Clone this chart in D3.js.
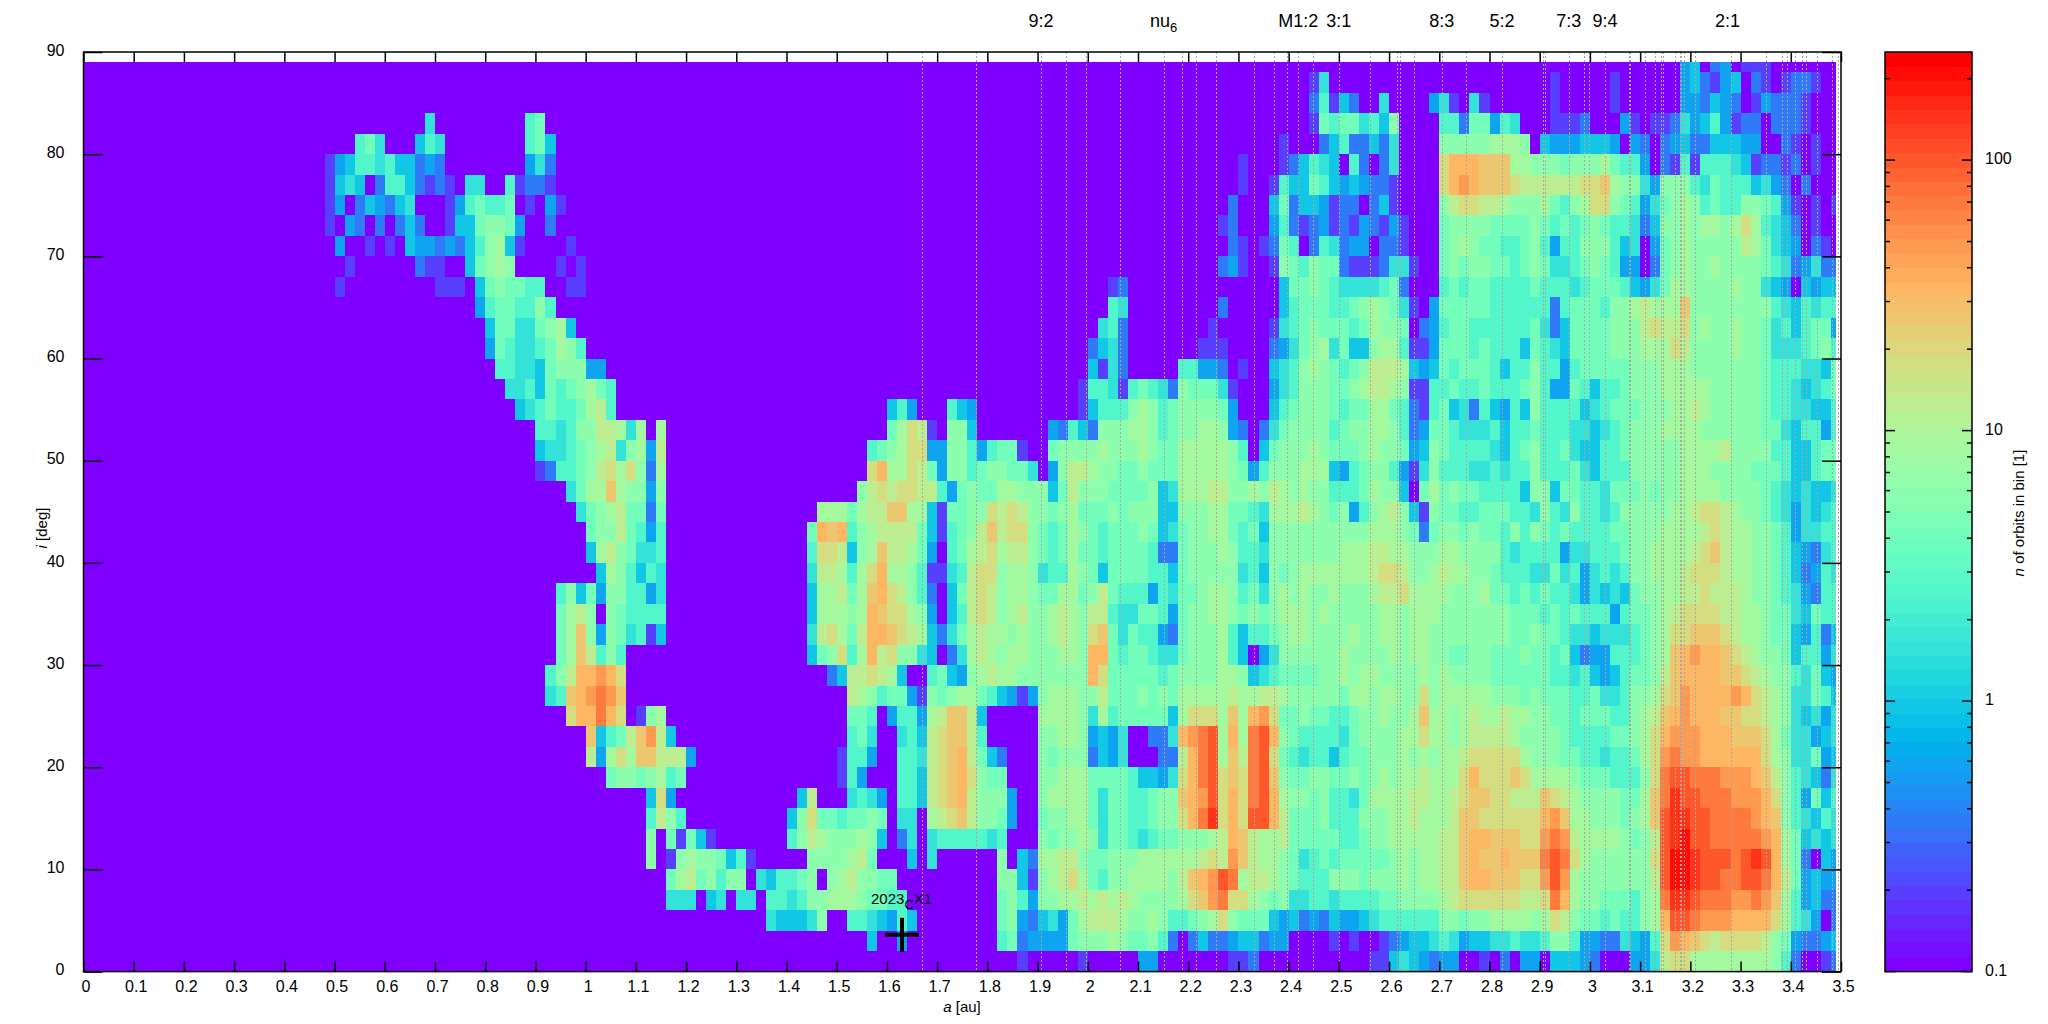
<!DOCTYPE html>
<html><head><meta charset="utf-8">
<script src="https://cdn.jsdelivr.net/npm/d3@7"></script>
<style>html,body{margin:0;padding:0;background:#fff}svg{display:block}text{font-family:"Liberation Sans",sans-serif;fill:#000}</style>
</head><body><svg id="c" width="2048" height="1024"></svg>
<script>
const xTicks = d3.range(0, 36).map(d => d / 10);
const yTicks = d3.range(0, 10).map(d => d * 10);
const cbMajor = [0.1, 1, 10, 100];
const cbMinor = [0.2,0.3,0.4,0.5,0.6,0.7,0.8,0.9,2,3,4,5,6,7,8,9,20,30,40,50,60,70,80,90,200];
const resonanceA = [1.67,1.777,1.907,1.957,1.996,2.065,2.151,2.188,2.216,2.255,2.332,2.37,2.397,2.419,2.448,2.5,2.562,2.615,2.621,2.65,2.705,2.753,2.754,2.825,2.906,2.91,2.958,2.988,2.999,3.03,3.078,3.08,3.11,3.13,3.142,3.146,3.17,3.179,3.181,3.188,3.21,3.28,3.35,3.382,3.393,3.408,3.423,3.43,3.452,3.483,3.495];
const topLabels = ["9:2","nu","M1:2","3:1","8:3","5:2","7:3","9:4","2:1"];
const topLabelA = [1.907,2.151,2.419,2.5,2.705,2.825,2.958,3.03,3.274];
const targetA = 1.63, targetI = 3.6;
const levelChars = "0123456789abcdefgh";
const levelValues = [0.2,0.35,0.6,1,1.6,2.5,4,6,9,13,18,25,35,50,70,100,140,200];
const binA = 0.02, binI = 2;
// one string per inclination band (0-2, 2-4, ...): "@a" sets the start, then one level per a-bin, "." = empty
const gridRows = [
"@1.86 0 @1.98 0 @2.10 22 @2.28 001 @2.56 0034321 @2.70 22..0.1.22 .33321...2 249aa88888 888751..01",
"@1.56 3 @1.62 2 @1.82 5612 @1.90 2226777876 6751.13112 33122....0 .0..012334 5423344544 5775221143 25adcba9aa aa97621123",
"@1.36 433347..5543253 @1.82 6721 @1.90 3426899987 78755678a7 6663231213 2234555555 7767788887 8a97665655 78cffedddc ccca8542.1",
"@1.16 444.34.44.55457788876655 @1.82 6752 @1.90 7788989898 77778abdea a876744554 5555667777 89aaaaaa99 aec8776665 78eggfeeed dedb852311",
"@1.16 68967577.435567.7897766 @1.82 7730 @1.90 789a865778 88879bcdfe 8998765557 7767778788 99bccbbbaa dfd8777777 79fhhgffee ffec962322",
"@1.12 7.078776350 @1.44 7777896 @1.64 3 @1.68 4 @1.82 7.31 @1.90 8899766777 8888889a9d b988764565 6666678788 99bcbbcbbb efea877777 7afhhgfffe fgfc861.32",
"@1.12 7.60630 @1.40 5798777873 @1.62 14 @1.68 45555545 @1.90 7677874665 456677789c b988966666 5567788888 99bccbbbaa ded9888876 79fghffeee eedc863434",
"@1.12 5975 @1.40 37a6656676 @1.62 44 @1.68 89ab97762 @1.90 6778864665 5677acegac affc966675 5577788988 89bbaaaaaa cdb8877767 8bfggffeee edcb754354",
"@1.12 3a2 @1.42 39 @1.52 4542 @1.62 5539abc97772 @1.90 7888864665 5677bcdfac aefc877675 5468888998 89abbaa999 ba98777766 8begffeeed ddca752635",
"@1.04 67767856 @1.50 052 @1.62 5539abca766 @1.90 7788866665 3324acefab aefb766776 6767878898 88acaaaba8 8887666555 7aeffeeedd dcb9754314",
"@1.00 928a8bb9992 @1.50 0552 @1.62 5549abc9631 @1.90 767771324. ..119cef8b 9efa654553 5667778787 889aaaaa87 7766554556 8adeddcccc cca8744623",
"@1.00 b3569bd93 @1.52 564 @1.62 4539abb95 @1.90 778872324. .114cdef8c 8efc765555 4677778 8a8 8789999877 7765555667 8acdddcccb bba8644234",
"@0.96 acceca @1.10 078 @1.52 665.255289bb93 @1.90 8888748566 66638aaa8b 8cda667665 56778778b8 8789889887 7665666557 89bcdcccbb aa98743424",
"@0.92 45bcdedb @1.52 9875662076788653202 @1.90 7888779666 7676888889 8899877777 68878877a7 8888877767 6665564457 78abdccccd ca98744653",
"@0.92 579ccdca @1.48 1399a983..56327898877 @1.90 77777ca666 6656777788 7345666677 8788777787 8777766666 6554532356 679bccccbb a987754632",
"@0.94 68b9575 @1.44 367a58c9a7743.148987887 @1.90 77887cc656 6544677785 3.24777777 8777787887 7667766676 6563122555 678bcdccba 9877635524",
"@0.94 68b72764503 @1.44 49a869ccba9831468988787 @1.90 78987ab646 5521677785 3556788777 7877887887 7777777667 6654434445 678aabbba9 8876632513",
"@0.94 6897.765555 @1.44 388878cbaa872.359a97897 @1.90 7898799544 6652677887 6767888787 7777887888 7777777666 5656555256 6789aaaa99 8876643655",
"@0.94 57362775524 @1.44 388968bca9751.369a97887 @1.90 6688679655 5254667887 5647878778 777899a888 8777866565 6554243436 778899a999 8776542155",
"@1.02 3875354 @1.44 499858ac887500459aa7887 @1.90 4558763666 6553677777 4537678888 8889aa9778 9887765554 4645245457 78889aaa98 8776531254",
"@1.00 38976445 @1.44 5aa9378b99862.5689a8997 @1.90 6568665666 6511677787 5547777777 8889988777 8877775455 5524455567 788889ab98 8776532145",
"@1.00 67796525 @1.44 6cbc57899996305679b9aa7 @1.90 6568765666 7634677886 5637777777 7778887616 7767665757 6565555667 7788889a98 8776524455",
"@0.98 467896616 @1.46 8886899bb88306677a9a97 @1.90 7678666767 7733777886 6548889876 7257897307 6655666554 7547554577 777889aa98 7765424345",
"@0.96 4688b87727 @1.54 79a9aa99526766887777 @1.90 7369777666 6734888997 7879878775 556877 3.68 6766555537 7366554666 7677888877 7765434334",
"@0.90 0155679a8a718 @1.56 ac88a962775677664 @1.90 .279987766 7666888887 6257778883 2567752047 5554454557 5556435557 7777888777 7666533566",
"@0.90 3445678947829 @1.56 5678aa2 @1.70 277525660 @1.92 677778777 8766888887 5.36777876 6678776237 6555543567 5564335567 7777888897 7775533566",
"@0.90 55457799848.8 @1.60 68a90 @1.72 773 @1.92 215317778 8756778872 1.14677775 6778875126 6544453556 5554434567 7788887777 7766435525",
"@0.86 3456556895 @1.60 352 @1.72 532 @1.98 035557 8756777762 @2.36 35677765668865105 6341532537 5555345666 7778898777 7765544335",
"@0.84 44536567865 @1.98 055405 6541766640 @2.36 24577766789987005 5655655567 5226535567 7788888777 7765543456",
"@0.82 55443677722 @2.00 3041 @2.18 55221.0 @2.36 34578765679998323 6566653557 5525666667 7788877777 7765554436",
"@0.80 2654456875 @2.00 1341 @2.22 000 @2.36 12467846337885002 6665655536 5436666777 888a977778 7764445675",
"@0.80 366446783 @2.02 451 @2.24 0 @2.36 04567666568776.12 5665555556 4136666777 9a99a78778 7764535662",
"@0.78 25665575 @2.04 54 @2.26 1 @2.38 35666556787640.2 6666655555 5156665778 9888b77777 7775435455",
"@0.50 0 @0.70 000 @0.78 3676655 @0.96 00 @2.04 01 @2.38 3667654444561 @2.70 5656655556 5554566653 2468877778 77432.3233",
"@0.52 0 @0.66 100 @0.76 36787 @0.94 0 @0.98 0 @2.26 120 @2.36 076576610001440 @2.70 6767766567 6445676522 .167877877 7765412411",
"@0.50 2 @0.56 0 @0.60 0 @0.64 322121357830 @0.96 0 @2.28 10 @2.34 0165.154122.110 @2.70 6787665567 5255777534 .267877777 986432.10.",
"@0.48 0.21.1.131..03367762..1 @2.26 01 @2.36 25101201021020 @2.70 6777766667 6565676554 1377878878 a85431.0..",
"@0.48 02.132134...0256556.0.20 @2.28 1 @2.36 361332011.130 @2.70 79aa998777 86578aa765 2467875655 776520.0.0",
"@0.48 0343.15531010.44..50110 @2.30 0 @2.36 0533653232110 @2.70 acdcbbba99 9999aab877 4277754655 53421.1...",
"@0.48 023554533121 @0.88 241 @2.30 0 @2.38 013543.51.14 @2.70 acccbbb887 7767778655 2.10505554 301101.0..",
"@0.54 564 @0.66 354 @0.88 563 @2.38 0 @2.46 13511314 @2.70 777778887. 32223332.2 1.12311333 22..10.0..",
"@0.68 4 @0.88 56 @2.44 065664537 @2.70 55166254.. .0001...20 .001423520 11.1110...",
"@2.44 15031..4 @2.68 240.40 @2.92 0 @3.04 0 @3.18 221321.021110",
"@2.44 04 @2.92 0 @3.04 0 @3.18 231023.10.0110",
"@3.18 23.12.000"
];

const cells = [];
gridRows.forEach((row, r) => {
  let k = 0;
  row.split(/\s+/).forEach(tok => {
    if (tok[0] === "@") { k = Math.round(+tok.slice(1) / binA); return; }
    for (const ch of tok) {
      const lv = levelChars.indexOf(ch);
      if (lv >= 0) cells.push({a: k * binA, i: r * binI, n: levelValues[lv]});
      k++;
    }
  });
});

const svg = d3.select("#c");
const x = d3.scaleLinear().domain([0, 3.5]).range([83.5, 1841]);
const y = d3.scaleLinear().domain([0, 90]).range([971.6, 52]);
const cbScale = d3.scaleLog().domain([0.1, 251]).range([971.6, 52]);
const tOf = d3.scaleLog().domain([0.1, 251]).range([0, 1]).clamp(true);
const nBands = 64;
function palette(n) {
  const band = Math.min(nBands - 1, Math.floor(tOf(n) * nBands));
  const t = band / (nBands - 1);
  const r = Math.min(1, Math.abs(2 * t - 0.5));
  const g = Math.sin(Math.PI * t);
  const b = Math.max(0, Math.cos(Math.PI * t / 2));
  return d3.rgb(r * 255, g * 255, b * 255).formatHex();
}
const iMax = 89, aMax = 3.49;

const heat = svg.append("g").attr("shape-rendering", "crispEdges");
heat.append("rect").attr("x", x(0)).attr("y", y(iMax))
  .attr("width", x(aMax) - x(0)).attr("height", y(0) - y(iMax)).attr("fill", palette(0.1));
heat.selectAll("rect.cell").data(cells).join("rect").attr("class", "cell")
  .attr("x", d => x(d.a))
  .attr("width", d => x(Math.min(aMax, d.a + binA)) - x(d.a))
  .attr("y", d => y(Math.min(iMax, d.i + binI)))
  .attr("height", d => y(d.i) - y(Math.min(iMax, d.i + binI)))
  .attr("fill", d => palette(d.n));

svg.append("g").selectAll("line").data(resonanceA).join("line")
  .attr("x1", d => Math.round(x(d)) + 0.5).attr("x2", d => Math.round(x(d)) + 0.5)
  .attr("y1", y(90)).attr("y2", y(0))
  .attr("stroke", "#a8a8a0").attr("stroke-width", 1).attr("stroke-dasharray", "2,2");

function style(g) { g.select(".domain").remove(); g.selectAll(".tick line").attr("stroke", "#000").attr("stroke-width", 1.5); g.selectAll("text").attr("font-size", 16).attr("font-family", '"Liberation Sans",sans-serif').attr("fill", "#000"); }
const fmt = d => String(d);
svg.append("g").attr("transform", `translate(0,${y(0)})`)
  .call(d3.axisBottom(x).tickValues(xTicks).tickFormat(fmt).tickSize(-10))
  .call(style).call(g => g.selectAll("text").attr("y", 20).attr("dy", 0).attr("dx", 2));
svg.append("g").attr("transform", `translate(0,${y(90)})`)
  .call(d3.axisTop(x).tickValues(xTicks).tickFormat("").tickSize(-10)).call(style);
svg.append("g").attr("transform", `translate(${x(0)},0)`)
  .call(d3.axisLeft(y).tickValues(yTicks).tickFormat(fmt).tickSize(-19))
  .call(style).call(g => g.selectAll("text").attr("x", -19).attr("dy", "0.2em"));
svg.append("g").attr("transform", `translate(${x(3.5)},0)`)
  .call(d3.axisRight(y).tickValues(yTicks).tickFormat("").tickSize(-19)).call(style);
svg.append("rect").attr("x", x(0)).attr("y", y(90)).attr("width", x(3.5) - x(0)).attr("height", y(0) - y(90))
  .attr("fill", "none").attr("stroke", "#000").attr("stroke-width", 1.5);

// top labels
svg.append("g").selectAll("text").data(topLabels).join("text")
  .attr("x", (d, k) => x(topLabelA[k])).attr("y", 27).attr("text-anchor", "middle").attr("font-size", 18)
  .each(function (d) {
    const t = d3.select(this);
    t.append("tspan").text(d);
    if (d === "nu") t.append("tspan").attr("dy", 5).attr("font-size", 13).text("6");
  });

// axis titles
const xt = svg.append("text").attr("x", 962).attr("y", 1012).attr("font-size", 15).attr("text-anchor", "middle");
xt.append("tspan").attr("font-style", "italic").text("a");
xt.append("tspan").text(" [au]");
const yt = svg.append("text").attr("transform", "translate(47,528) rotate(-90)").attr("font-size", 15).attr("text-anchor", "middle");
yt.append("tspan").attr("font-style", "italic").text("i");
yt.append("tspan").text(" [deg]");
const ct = svg.append("text").attr("transform", "translate(2024,513) rotate(-90)").attr("font-size", 15).attr("text-anchor", "middle");
ct.append("tspan").attr("font-style", "italic").text("n");
ct.append("tspan").text(" of orbits in bin [1]");

// target marker
const cx = x(targetA), cy = y(targetI);
svg.append("g").attr("stroke", "#000").attr("stroke-width", 4)
  .selectAll("line").data([[cx - 17, cy, cx + 17, cy], [cx, cy - 17, cx, cy + 17]]).join("line")
  .attr("x1", d => d[0]).attr("y1", d => d[1]).attr("x2", d => d[2]).attr("y2", d => d[3]);
const lab = svg.append("text").attr("x", 871).attr("y", 904).attr("font-size", 15);
lab.append("tspan").text("2023");
lab.append("tspan").attr("dy", 5).attr("font-size", 13).text("C");
lab.append("tspan").attr("dy", -5).text("X1");

// colour box
const cbx0 = 1885, cbx1 = 1972;
const edges = d3.range(nBands + 1).map(k => 0.1 * Math.pow(251 / 0.1, k / nBands));
svg.append("g").attr("shape-rendering", "crispEdges").selectAll("rect").data(d3.range(nBands)).join("rect")
  .attr("x", cbx0).attr("width", cbx1 - cbx0)
  .attr("y", k => cbScale(edges[k + 1])).attr("height", k => cbScale(edges[k]) - cbScale(edges[k + 1]) + 0.6)
  .attr("fill", k => palette(Math.sqrt(edges[k] * edges[k + 1])));
const cbTicks = svg.append("g").attr("stroke", "#000").attr("stroke-width", 1.5);
[[cbMajor, 10], [cbMinor, 5]].forEach(([vals, len]) => {
  vals.forEach(v => {
    const yy = cbScale(v);
    cbTicks.append("line").attr("x1", cbx0).attr("x2", cbx0 + len).attr("y1", yy).attr("y2", yy);
    cbTicks.append("line").attr("x1", cbx1 - len).attr("x2", cbx1).attr("y1", yy).attr("y2", yy);
  });
});
svg.append("rect").attr("x", cbx0).attr("y", 52).attr("width", cbx1 - cbx0).attr("height", 971.6 - 52)
  .attr("fill", "none").attr("stroke", "#000").attr("stroke-width", 1.5);
svg.append("g").selectAll("text").data(cbMajor).join("text")
  .attr("x", 1985).attr("y", d => cbScale(d) + 4).attr("font-size", 16).text(fmt);
</script></body></html>
